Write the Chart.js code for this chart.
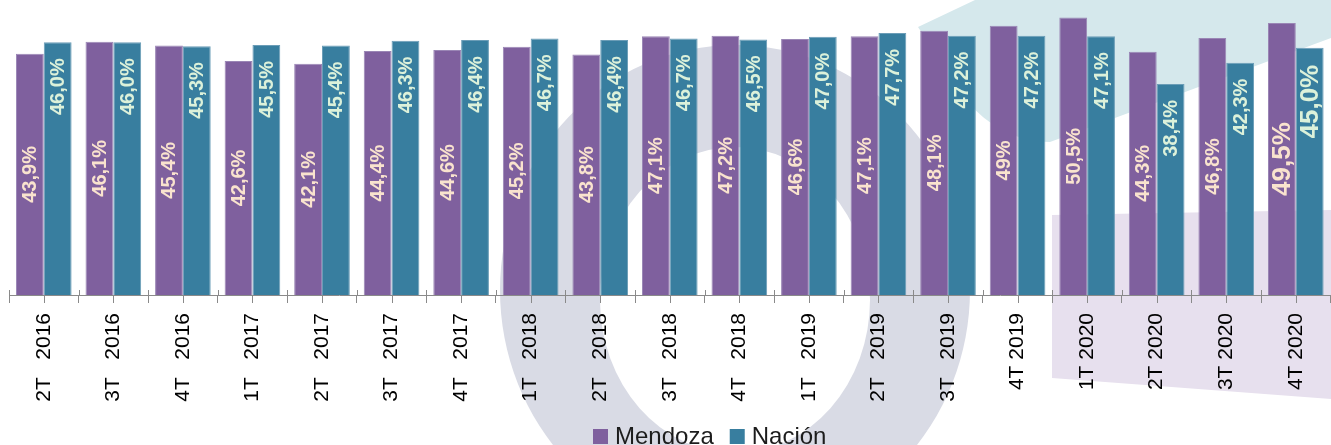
<!DOCTYPE html>
<html><head><meta charset="utf-8">
<script src="https://cdn.jsdelivr.net/npm/chart.js@4"></script>
<style>html,body{margin:0;padding:0;background:#fff;overflow:hidden}#wrap{width:1331px;height:445px;position:relative}</style>
</head><body><div id="wrap"><canvas id="c" width="1331" height="445"></canvas></div>
<script>
const categories = ['2T   2016','3T   2016','4T   2016','1T   2017','2T   2017','3T   2017','4T   2017','1T   2018','2T   2018','3T   2018','4T   2018','1T   2019','2T   2019','3T   2019','4T 2019','1T 2020','2T 2020','3T 2020','4T 2020'];
const mendoza = [43.9,46.1,45.4,42.6,42.1,44.4,44.6,45.2,43.8,47.1,47.2,46.6,47.1,48.1,49,50.5,44.3,46.8,49.5];
const nacion  = [46.0,46.0,45.3,45.5,45.4,46.3,46.4,46.7,46.4,46.7,46.5,47.0,47.7,47.2,47.2,47.1,38.4,42.3,45.0];
const seriesNames = ['Mendoza','Nación'];

const fmtMendoza = v => String(v).replace('.', ',') + '%';
const fmtNacion = v => v.toFixed(1).replace('.', ',') + '%';

const bgPlugin = {
  id: 'bg',
  beforeDraw(chart) {
    const ctx = chart.ctx;
    ctx.save();
    ctx.fillStyle = '#fff';
    ctx.fillRect(0, 0, chart.width, chart.height);
    // teal watermark
    ctx.fillStyle = '#D5E8EC';
    ctx.beginPath();
    ctx.moveTo(975, 0); ctx.lineTo(918, 27);
    ctx.bezierCurveTo(950, 75, 975, 140, 1050, 142);
    ctx.lineTo(1331, 38); ctx.lineTo(1331, 0); ctx.closePath();
    ctx.fill();
    // grey ring watermark
    ctx.fillStyle = '#D9DBE5';
    ctx.beginPath();
    ctx.ellipse(735, 290, 235, 245, 0, 0, Math.PI * 2);
    ctx.moveTo(735 + 135, 300);
    ctx.ellipse(735, 300, 135, 153, 0, 0, Math.PI * 2);
    ctx.fill('evenodd');
    // purple watermark
    ctx.fillStyle = '#E7E0EE';
    ctx.beginPath();
    ctx.moveTo(1052, 215); ctx.lineTo(1331, 210); ctx.lineTo(1331, 399); ctx.lineTo(1052, 378);
    ctx.closePath(); ctx.fill();
    ctx.restore();
  }
};

const tickPlugin = {
  id: 'ticks2',
  afterDraw(chart) {
    const ctx = chart.ctx, xs = chart.scales.x, y0 = chart.chartArea.bottom;
    const step = xs.getPixelForValue(1) - xs.getPixelForValue(0);
    ctx.save();
    ctx.strokeStyle = '#8a8a8a'; ctx.lineWidth = 1;
    ctx.beginPath();
    for (let i = 0; i < categories.length; i++) {
      const cx = Math.round(xs.getPixelForValue(i)) + 0.5;
      ctx.moveTo(cx, y0); ctx.lineTo(cx, y0 + 8);
      const bx = Math.round(xs.getPixelForValue(i) - step / 2) + 0.5;
      ctx.moveTo(bx, y0 - 5); ctx.lineTo(bx, y0);
    }
    ctx.stroke();
    ctx.restore();
  }
};

const labelPlugin = {
  id: 'vlabels',
  afterDatasetsDraw(chart) {
    const ctx = chart.ctx;
    chart.data.datasets.forEach((ds, di) => {
      const meta = chart.getDatasetMeta(di);
      meta.data.forEach((el, i) => {
        const big = i === categories.length - 1;
        const size = big ? 26 : 20;
        ctx.save();
        ctx.font = 'bold ' + size + 'px "Liberation Sans", Arial, sans-serif';
        ctx.fillStyle = di === 0 ? '#F9E3CE' : '#DCF1DA';
        ctx.textBaseline = 'middle';
        let ay;
        if (di === 0) { ay = (el.y + el.base) / 2; ctx.textAlign = 'center'; }
        else { ay = el.y + (big ? 17 : 16); ctx.textAlign = 'right'; }
        ctx.translate(el.x + 1, ay);
        ctx.rotate(-Math.PI / 2);
        const txt = di === 0 ? fmtMendoza(ds.data[i]) : fmtNacion(ds.data[i]);
        ctx.fillText(txt, 0, 0);
        ctx.restore();
      });
    });
  }
};

const legendPlugin = {
  id: 'leg',
  afterDraw(chart) {
    const ctx = chart.ctx;
    ctx.save();
    ctx.font = '24px "Liberation Sans", Arial, sans-serif';
    ctx.textBaseline = 'alphabetic';
    ctx.textAlign = 'left';
    const gap = 7, box = 15, sep = 16;
    const ws = chart.data.datasets.map(d => ctx.measureText(d.label).width);
    let x = 593;
    chart.data.datasets.forEach((d, i) => {
      ctx.fillStyle = d.backgroundColor;
      ctx.fillRect(x, 429, box, box);
      ctx.fillStyle = '#1c1c1c';
      ctx.fillText(d.label, x + box + gap, 444);
      x += box + gap + ws[i] + sep;
    });
    ctx.restore();
  }
};

new Chart(document.getElementById('c'), {
  type: 'bar',
  data: {
    labels: categories,
    datasets: [
      { label: seriesNames[0], data: mendoza, backgroundColor: '#7F609E', borderColor: '#9A86B5', borderWidth: 1, barPercentage: 1, categoryPercentage: 0.8 },
      { label: seriesNames[1], data: nacion, backgroundColor: '#387E9F', borderColor: '#6B9DB7', borderWidth: 1, barPercentage: 1, categoryPercentage: 0.8 }
    ]
  },
  options: {
    responsive: false,
    animation: false,
    devicePixelRatio: 1,
    layout: { padding: { left: 9, right: 0, top: 0, bottom: 0 } },
    plugins: { legend: { display: false }, tooltip: { enabled: false }, title: { display: false } },
    scales: {
      x: {
        offset: true,
        grid: { offset: true, drawOnChartArea: false, drawTicks: true, tickLength: 8, color: '#8a8a8a' },
        border: { display: true, color: '#8a8a8a', width: 1 },
        ticks: { maxRotation: 90, minRotation: 90, autoSkip: false, padding: 10, color: '#000', font: { family: '"Liberation Sans", Arial, sans-serif', size: 21 } },
        afterFit(scale) { scale.height = 150; }
      },
      y: { display: false, min: 0, max: 53.7 }
    }
  },
  plugins: [bgPlugin, tickPlugin, labelPlugin, legendPlugin]
});
</script>
</body></html>
